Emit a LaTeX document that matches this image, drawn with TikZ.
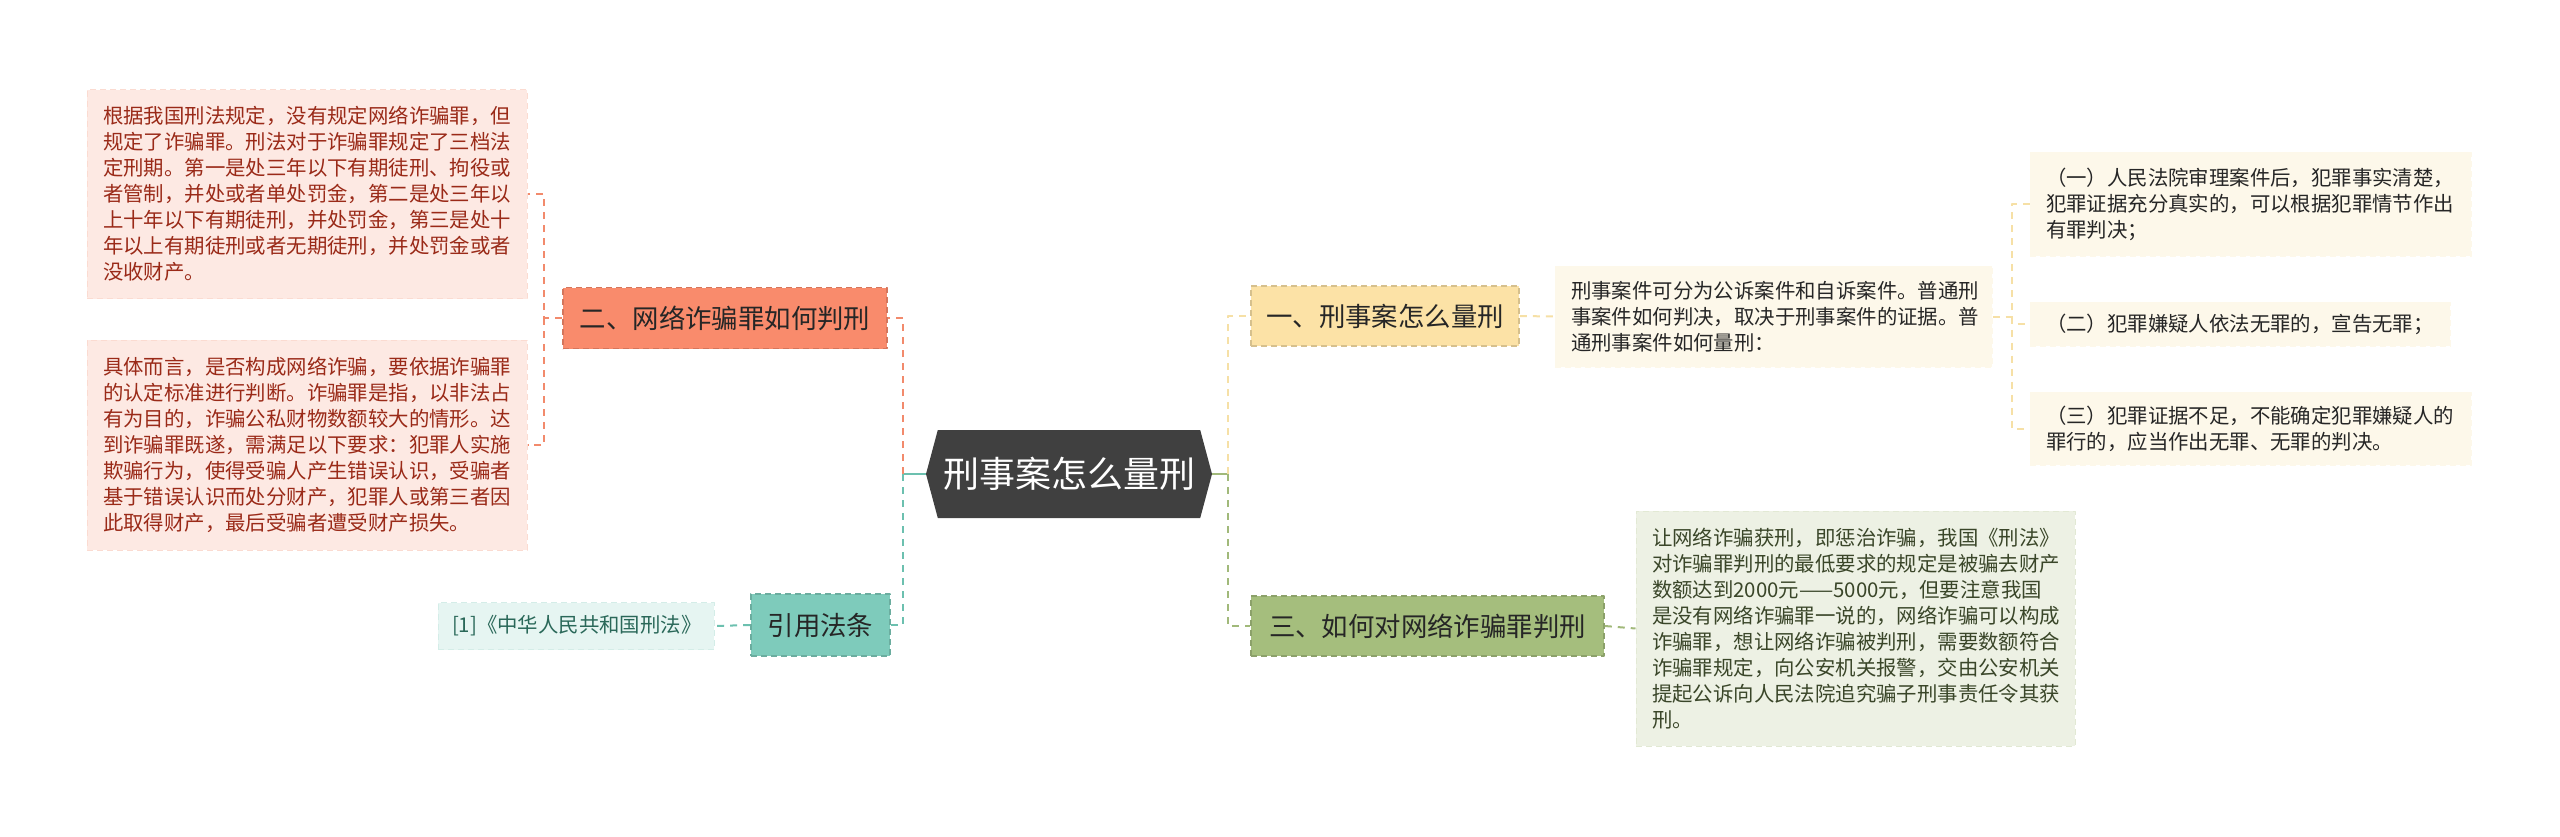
\documentclass[tikz,border=0pt]{standalone}
\usepackage{fontspec}
\setmainfont{Noto Sans CJK SC}
\usetikzlibrary{shapes.symbols}
\definecolor{rootgray}{HTML}{404040}
\definecolor{orangebr}{HTML}{F28A6C}
\definecolor{orangebox}{HTML}{F98B6C}
\definecolor{pinkfill}{HTML}{FDE9E3}
\definecolor{redtext}{HTML}{9A2A18}
\definecolor{tealbr}{HTML}{6CC0AF}
\definecolor{tealbox}{HTML}{7ECBBB}
\definecolor{tealfill}{HTML}{E6F5F2}
\definecolor{tealtext}{HTML}{2A6859}
\definecolor{yellowbr}{HTML}{F6E0A6}
\definecolor{yellowbox}{HTML}{FCE2A6}
\definecolor{yellowfill}{HTML}{FDF8EA}
\definecolor{greenbr}{HTML}{A1B97A}
\definecolor{greenbox}{HTML}{A5BE7D}
\definecolor{greenfill}{HTML}{EDF1E4}
\definecolor{greentext}{HTML}{3A4629}
\definecolor{darktext}{HTML}{262626}
\tikzset{
  every picture/.style={line join=round},
  topic/.style={draw, line width=0.8pt, dash pattern=on 3pt off 2pt, inner sep=0pt,
    font=\fontsize{13.2}{16}\selectfont, text=darktext},
  leaf/.style={draw, line width=0.5pt, dash pattern=on 3pt off 2pt, align=left,
    inner xsep=8pt, inner ysep=0pt, text width=#1, font=\fontsize{10.2}{13}\selectfont},
  link/.style={line width=1pt, dash pattern=on 3.5pt off 3pt},
}

\begin{document}
\begin{tikzpicture}[x=0.5pt,y=-0.5pt]
\useasboundingbox (0,0) rectangle (2560,836);

\node[signal, signal to=west and east, signal pointer angle=150, fill=rootgray, text=white,
  font=\fontsize{18}{21}\selectfont, minimum width=143pt, minimum height=44pt, inner sep=0pt]
  (root) at (1069,474) {刑事案怎么量刑};

% left side
\node[topic, fill=orangebox, draw=orangebox!85!black, minimum width=162pt, minimum height=30.5pt]
  (br2) at (725,318) {二、网络诈骗罪如何判刑};
\node[topic, fill=tealbox, draw=tealbox!85!black, minimum width=69.5pt, minimum height=31pt]
  (cite) at (820.5,625) {引用法条};
\node[leaf=204pt, fill=pinkfill, draw=pinkfill!85!orangebr, text=redtext, minimum height=104.5pt]
  (law1) at (307,194) {根据我国刑法规定，没有规定网络诈骗罪，但\\规定了诈骗罪。刑法对于诈骗罪规定了三档法\\定刑期。第一是处三年以下有期徒刑、拘役或\\者管制，并处或者单处罚金，第二是处三年以\\上十年以下有期徒刑，并处罚金，第三是处十\\年以上有期徒刑或者无期徒刑，并处罚金或者\\没收财产。};
\node[leaf=204pt, fill=pinkfill, draw=pinkfill!85!orangebr, text=redtext, minimum height=105pt]
  (law2) at (307,445) {具体而言，是否构成网络诈骗，要依据诈骗罪\\的认定标准进行判断。诈骗罪是指，以非法占\\有为目的，诈骗公私财物数额较大的情形。达\\到诈骗罪既遂，需满足以下要求：犯罪人实施\\欺骗行为，使得受骗人产生错误认识，受骗者\\基于错误认识而处分财产，犯罪人或第三者因\\此取得财产，最后受骗者遭受财产损失。};
\node[leaf=124pt, inner xsep=7pt, fill=tealfill, draw=tealfill!85!tealbr, text=tealtext, minimum height=23.5pt]
  (ref) at (576,626) {[1]《中华人民共和国刑法》};

% right side
\node[topic, fill=yellowbox, draw=yellowbox!85!black, minimum width=134pt, minimum height=30pt]
  (br1) at (1385,316) {一、刑事案怎么量刑};
\node[topic, fill=greenbox, draw=greenbox!85!black, minimum width=176.5pt, minimum height=30pt]
  (br3) at (1427.5,626) {三、如何对网络诈骗罪判刑};
\node[leaf=202.5pt, fill=yellowfill, draw=yellowfill, text=darktext, minimum height=50.5pt]
  (txt1) at (1773.5,316.5) {刑事案件可分为公诉案件和自诉案件。普通刑\\事案件如何判决，取决于刑事案件的证据。普\\通刑事案件如何量刑：};
\node[leaf=204.5pt, fill=yellowfill, draw=yellowfill, text=darktext, minimum height=52pt]
  (sub1) at (2250.5,204) {（一）人民法院审理案件后，犯罪事实清楚，\\犯罪证据充分真实的，可以根据犯罪情节作出\\有罪判决；};
\node[leaf=194pt, fill=yellowfill, draw=yellowfill, text=darktext, minimum height=22pt]
  (sub2) at (2240,324) {（二）犯罪嫌疑人依法无罪的，宣告无罪；};
\node[leaf=204.5pt, fill=yellowfill, draw=yellowfill, text=darktext, minimum height=36.5pt]
  (sub3) at (2250.5,428.5) {（三）犯罪证据不足，不能确定犯罪嫌疑人的\\罪行的，应当作出无罪、无罪的判决。};
\node[leaf=203.5pt, fill=greenfill, draw=greenfill!85!greenbr, text=greentext, minimum height=117.5pt]
  (txt3) at (1855.5,628.5) {让网络诈骗获刑，即惩治诈骗，我国《刑法》\\对诈骗罪判刑的最低要求的规定是被骗去财产\\数额达到2000元——5000元，但要注意我国\\是没有网络诈骗罪一说的，网络诈骗可以构成\\诈骗罪，想让网络诈骗被判刑，需要数额符合\\诈骗罪规定，向公安机关报警，交由公安机关\\提起公诉向人民法院追究骗子刑事责任令其获\\刑。};

% connectors
\coordinate (busL) at (903,474);
\coordinate (busR) at (1228,474);
\coordinate (busO) at (544,318);
\coordinate (busY) at (2012,316.5);
\draw[tealbr, line width=1pt] (root.west) -- (busL);
\draw[link, orangebr] (busL) |- (br2.east);
\draw[link, tealbr] (busL) |- (cite.east);
\draw[greenbr, line width=1pt] (root.east) -- (busR);
\draw[link, yellowbr] (busR) |- (br1.west);
\draw[link, greenbr] (busR) |- (br3.west);
\draw[link, orangebr] (br2.west) -- (busO) |- (law1.east);
\draw[link, orangebr] (busO) |- (law2.east);
\draw[link, tealbr] (cite.west) -- (ref.east);
\draw[link, yellowbr] (br1.east) -- (txt1.west);
\draw[link, yellowbr] (txt1.east) -- (busY) |- (sub1.west);
\draw[link, yellowbr] (busY) |- (sub2.west);
\draw[link, yellowbr] (busY) |- (sub3.west);
\draw[link, greenbr] (br3.east) -- (txt3.west);
\end{tikzpicture}
\end{document}
